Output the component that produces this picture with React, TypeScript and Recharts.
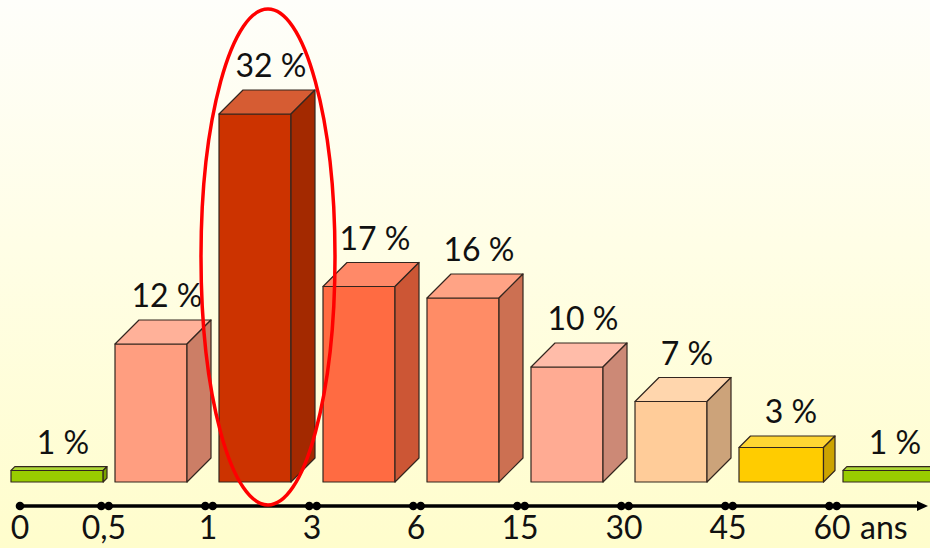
import { BarChart, Bar, XAxis, YAxis, LabelList } from 'recharts'

// lower bound of each age group (years), and share of cases per group
const ageBounds = ['0', '0,5', '1', '3', '6', '15', '30', '45', '60']
const shares = [1, 12, 32, 17, 16, 10, 7, 3, 1]
const barColors = ['#99CC00', '#FF9E80', '#CC3300', '#FF6B42', '#FF8C66', '#FFAB93', '#FFCC99', '#FFCC00', '#99CC00']
const unit = 'ans'

const data = ageBounds.map((age, i) => ({ age, share: shares[i], color: barColors[i] }))
const peakIndex = shares.indexOf(Math.max(...shares))

const VIEW_W = 930
const VIEW_H = 548
const CHART_W = 943
const MARGIN = { top: 22, right: 0, bottom: 0, left: 7 }
const BAND = (CHART_W - MARGIN.left - MARGIN.right) / data.length
const FONT = '"Comic Sans MS", Lato, sans-serif'
const FONT_SIZE = 32
const OUTLINE = '#33261f'

const channels = (hex: string) => [1, 3, 5].map((i) => parseInt(hex.slice(i, i + 2), 16))
const toHex = (c: number[]) => '#' + c.map((v) => Math.round(v).toString(16).padStart(2, '0')).join('')
const tint = (hex: string, k: number) => toHex(channels(hex).map((v) => v + (255 - v) * k))
const shade = (hex: string, k: number) => toHex(channels(hex).map((v) => v * k))

// depth of the 3D block: flat blocks get a shallower top
const depthOf = (h: number) => Math.min(24, h / 3)

function Block(props: any) {
  const { x, y, width, height, payload } = props
  const d = depthOf(height)
  const w = width - d
  const fill = payload.color
  return (
    <g stroke={OUTLINE} strokeWidth={1.2} strokeLinejoin="round">
      <rect x={x} y={y} width={w} height={height} fill={fill} />
      <polygon
        points={`${x},${y} ${x + d},${y - d} ${x + width},${y - d} ${x + w},${y}`}
        fill={tint(fill, 0.2)}
      />
      <polygon
        points={`${x + w},${y} ${x + width},${y - d} ${x + width},${y + height - d} ${x + w},${y + height}`}
        fill={shade(fill, 0.8)}
      />
    </g>
  )
}

function ShareLabel(props: any) {
  const vb = props.viewBox ?? props
  const { x, y, width, height } = vb
  const d = depthOf(height)
  const base = y + height
  return (
    <g>
      <text
        x={x + width / 2 + 4}
        y={y - d - 13}
        textAnchor="middle"
        fontFamily={FONT}
        fontSize={FONT_SIZE}
        fill="#111"
      >
        {`${props.value} %`}
      </text>
      {props.index === peakIndex && (
        <ellipse
          cx={x + width / 2 + 1}
          cy={base - 225}
          rx={67}
          ry={248}
          fill="none"
          stroke="#FF0000"
          strokeWidth={3.5}
        />
      )}
    </g>
  )
}

// age axis: a dot (pair of dots between groups) at each bound, arrow at the end
function AgeTick(props: any) {
  const { x, y, payload, index } = props
  const left = x - BAND / 2
  const lineY = y + 24
  const textY = y + 57
  if (index === 0) {
    const px = left + 13
    const end = VIEW_W - 2
    return (
      <g>
        <line x1={px} y1={lineY} x2={end - 8} y2={lineY} stroke="#000" strokeWidth={3.5} />
        <polygon points={`${end},${lineY} ${end - 11},${lineY - 5} ${end - 11},${lineY + 5}`} fill="#000" />
        <circle cx={px} cy={lineY} r={4.3} fill="#000" />
        <text x={px} y={textY} textAnchor="middle" fontFamily={FONT} fontSize={FONT_SIZE} fill="#111">
          {payload.value}
        </text>
      </g>
    )
  }
  const px = left - 6
  const last = index === data.length - 1
  return (
    <g>
      <circle cx={px - 3.7} cy={lineY} r={4.3} fill="#000" />
      <circle cx={px + 3.7} cy={lineY} r={4.3} fill="#000" />
      <text x={px - 1} y={textY} textAnchor="middle" fontFamily={FONT} fontSize={FONT_SIZE} fill="#111">
        {payload.value}
      </text>
      {last && (
        <text x={px + 27} y={textY} textAnchor="start" fontFamily={FONT} fontSize={FONT_SIZE} fill="#111">
          {unit}
        </text>
      )}
    </g>
  )
}

export default function App() {
  return (
    <div
      style={{
        position: 'absolute',
        left: 0,
        top: 0,
        width: VIEW_W,
        height: VIEW_H,
        overflow: 'hidden',
        background: 'linear-gradient(#FEFEFA 0%, #FFFEE6 45%, #FFFDCC 100%)',
      }}
    >
      <BarChart width={CHART_W} height={VIEW_H} data={data} margin={MARGIN} barCategoryGap={4}>
        <XAxis
          dataKey="age"
          height={66}
          axisLine={false}
          tickLine={false}
          tickSize={0}
          tickMargin={0}
          interval={0}
          tick={<AgeTick />}
        />
        <YAxis hide domain={[0, 40]} />
        <Bar dataKey="share" shape={<Block />} isAnimationActive={false}>
          <LabelList dataKey="share" content={<ShareLabel />} />
        </Bar>
      </BarChart>
    </div>
  )
}
